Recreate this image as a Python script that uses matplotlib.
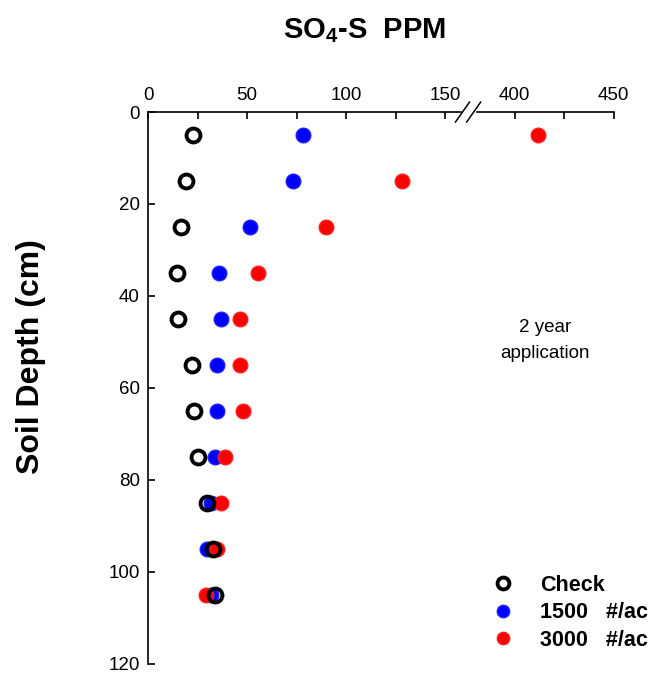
import numpy as np
import matplotlib.pyplot as plt

plt.rcParams['font.family'] = ['Liberation Sans', 'DejaVu Sans']

depth = [5, 15, 25, 35, 45, 55, 65, 75, 85, 95, 105]
check = [22.5, 19, 16.5, 14.5, 15, 22, 23, 25, 30, 33, 34]
rate_1500 = [78, 73, 51.5, 36, 37, 35, 35, 34, 32, 30, 32]
rate_3000 = [412, 128, 90, 55.5, 46.5, 46.5, 48, 39, 37, 35, 29.5]

tick_vals = [0, 50, 100, 150, 400, 450]
minor_vals = [25, 75, 125, 425]

# broken x axis: 160..375 collapsed
BREAK_LO, BREAK_HI = 160, 375


def squash(v):
    v = np.asarray(v, dtype=float)
    return np.where(v <= BREAK_LO, v, v - (BREAK_HI - BREAK_LO))


fig = plt.figure(figsize=(6.55, 6.75), dpi=100)
ax = fig.add_axes([0.226, 0.017, 0.711, 0.817])

ax.plot(squash(check), depth, 'o', ms=10, mfc='none', mec='black', mew=2.8,
        label='Check', zorder=3)
ax.plot(squash(rate_1500), depth, 'o', ms=10.5, color='#0000ff', mec='#2020ff',
        label='1500   #/ac', zorder=2)
ax.plot(squash(rate_3000), depth, 'o', ms=10.5, color='#ff0000', mec='#ff2020',
        label='3000   #/ac', zorder=2)

ax.set_xlim(0, squash(450))
ax.set_ylim(120, 0)
ax.xaxis.tick_top()
ax.set_xticks(squash(tick_vals))
ax.set_xticklabels([str(t) for t in tick_vals])
ax.set_xticks(squash(minor_vals), minor=True)
ax.set_yticks([0, 20, 40, 60, 80, 100, 120])
ax.tick_params(axis='both', which='both', direction='in', length=5, width=1.2,
               labelsize=13.5, pad=6)
ax.tick_params(axis='x', which='both', top=True, bottom=False)
for s in ['right', 'bottom']:
    ax.spines[s].set_visible(False)
for s in ['left', 'top']:
    ax.spines[s].set_linewidth(1.2)

# break marks on top spine
bx = (BREAK_LO + 1.5) / float(squash(450))
ax.add_patch(plt.Rectangle((bx - 0.014, 0.99), 0.028, 0.02, transform=ax.transAxes,
                           color='white', clip_on=False, zorder=5))
for dx in (-0.012, 0.012):
    ax.plot([bx + dx - 0.015, bx + dx + 0.015], [0.982, 1.018], color='black',
            lw=1.1, transform=ax.transAxes, clip_on=False, zorder=6)

ax.set_ylabel('Soil Depth (cm)', fontsize=23, fontweight='bold')
ax.yaxis.set_label_coords(-0.22, 0.556)
fig.text(0.557, 0.955, r'SO$_\mathregular{4}$-S  PPM', ha='center', va='center',
         fontsize=21, fontweight='bold')
ax.text(0.853, 0.585, '2 year\napplication', transform=ax.transAxes, ha='center',
        va='center', fontsize=13.5, linespacing=1.7)

ax.legend(loc='lower right', bbox_to_anchor=(1.115, -0.012), frameon=False,
          prop={'weight': 'bold', 'size': 15.5}, handletextpad=0.95,
          labelspacing=0.3, markerscale=0.85, handlelength=1.5)

fig.savefig('out.png', dpi=100)
